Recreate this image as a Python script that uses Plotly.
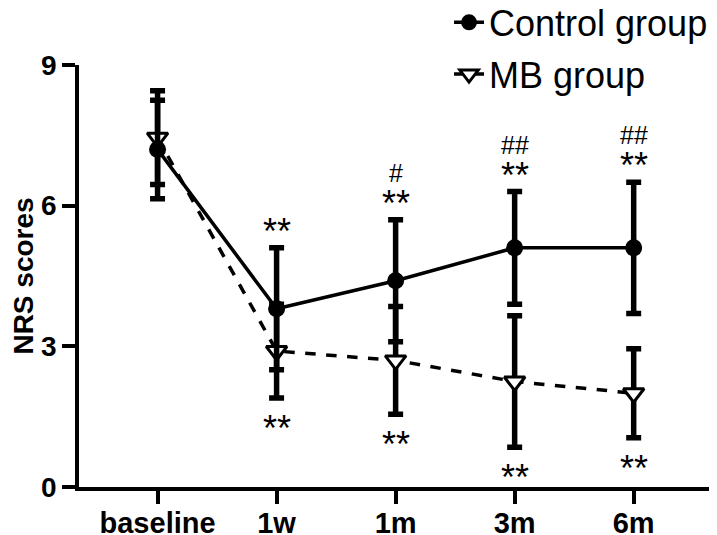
import plotly.graph_objects as go

categories = ["baseline", "1w", "1m", "3m", "6m"]
x_pos = [0, 1, 2, 3, 4]

control_mean = [7.2, 3.8, 4.4, 5.1, 5.1]
control_err = [1.05, 1.3, 1.3, 1.2, 1.4]
mb_mean = [7.45, 2.9, 2.7, 2.25, 2.0]
mb_err = [1.0, 1.0, 1.15, 1.4, 0.95]

ctrl_star = ["", "**", "**", "**", "**"]
ctrl_hash = ["", "", "#", "##", "##"]
mb_star = ["", "**", "**", "**", "**"]

y_ticks = [0, 3, 6, 9]

FONT = "Liberation Sans, Arial, sans-serif"

fig = go.Figure()

fig.add_trace(go.Scatter(
    x=x_pos, y=mb_mean, name="MB group", mode="lines+markers",
    line=dict(color="black", width=3.5, dash="dash"),
    marker=dict(symbol="triangle-down", size=18, color="white",
                line=dict(color="black", width=3)),
    error_y=dict(type="data", array=mb_err, visible=True, color="black",
                 thickness=5.5, width=7.5),
    legendgroup="mb", legendrank=2, cliponaxis=False,
))
fig.add_trace(go.Scatter(
    x=x_pos, y=control_mean, name="Control group", mode="lines+markers",
    line=dict(color="black", width=3.5),
    marker=dict(symbol="circle", size=17, color="black"),
    error_y=dict(type="data", array=control_err, visible=True, color="black",
                 thickness=5.5, width=7.5),
    legendgroup="ctrl", legendrank=1, cliponaxis=False,
))

annotations = []
for i in range(len(categories)):
    top = control_mean[i] + control_err[i]
    bot = mb_mean[i] - mb_err[i]
    if ctrl_star[i]:
        annotations.append(dict(x=x_pos[i], y=top, text=ctrl_star[i], showarrow=False,
                                yanchor="bottom", yshift=-6,
                                font=dict(family=FONT, size=36, color="black")))
    if ctrl_hash[i]:
        annotations.append(dict(x=x_pos[i], y=top, text=ctrl_hash[i], showarrow=False,
                                yanchor="bottom", yshift=31,
                                font=dict(family=FONT, size=25, color="black")))
    if mb_star[i]:
        annotations.append(dict(x=x_pos[i], y=bot, text=mb_star[i], showarrow=False,
                                yanchor="top", yshift=-8,
                                font=dict(family=FONT, size=36, color="black")))

fig.update_layout(
    width=709, height=527,
    margin=dict(l=71, r=0, t=57, b=48, autoexpand=False),
    plot_bgcolor="white", paper_bgcolor="white",
    font=dict(family=FONT, color="black"),
    showlegend=True,
    legend=dict(x=0.58, y=1.172, xref="paper", yref="paper",
                xanchor="left", yanchor="top",
                traceorder="grouped", tracegroupgap=2,
                font=dict(family=FONT, size=36, color="black"),
                bgcolor="rgba(0,0,0,0)", itemwidth=30),
    annotations=annotations,
)
fig.update_xaxes(
    range=[-0.66, 4.7], tickvals=x_pos, ticktext=categories,
    showline=True, linecolor="black", linewidth=3.5,
    ticks="outside", ticklen=13, tickwidth=3.5, tickcolor="black",
    ticklabelstandoff=-6,
    showgrid=False, zeroline=False, automargin=False,
    tickfont=dict(family=FONT, size=29, color="black", weight="bold"),
)
fig.update_yaxes(
    range=[0, 9], tickvals=y_ticks,
    showline=True, linecolor="black", linewidth=3.5,
    ticks="outside", ticklen=13, tickwidth=3.5, tickcolor="black",
    showgrid=False, zeroline=False, automargin=False,
    tickfont=dict(family=FONT, size=28, color="black", weight="bold"),
    title=dict(text="NRS scores", font=dict(family=FONT, size=28, color="black", weight="bold"),
               standoff=14),
)

fig.write_html("out.html")
